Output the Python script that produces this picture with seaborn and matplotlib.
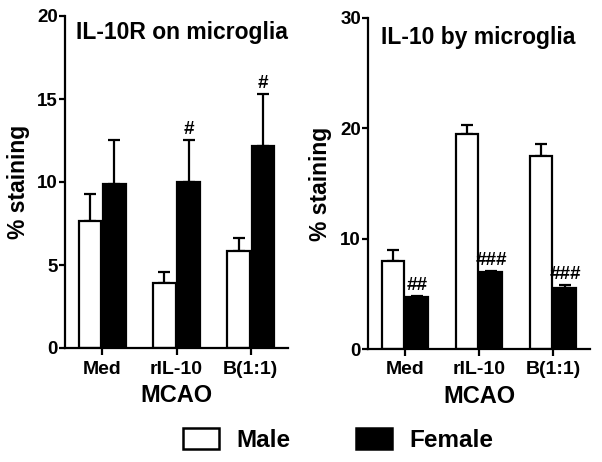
import numpy as np
import pandas as pd
import matplotlib
matplotlib.use("Agg")
import matplotlib.pyplot as plt
from matplotlib.patches import Patch
import seaborn as sns

# ---------------- data ----------------
groups = ["Med", "rIL-10", "B(1:1)"]
sexes = ["Male", "Female"]

il10r_male = [7.65, 3.9, 5.84]
il10r_male_sem = [1.65, 0.67, 0.76]
il10r_female = [9.88, 10.0, 12.17]
il10r_female_sem = [2.65, 2.5, 3.13]
il10r_marks = ["", "#", "#"]

il10_male = [7.95, 19.47, 17.5]
il10_male_sem = [0.98, 0.83, 1.05]
il10_female = [4.70, 6.95, 5.52]
il10_female_sem = [0.12, 0.09, 0.30]
il10_marks = ["##", "###", "###"]

titles = ["IL-10R on microglia", "IL-10 by microglia"]
ylims = [20, 30]
yticks = [[0, 5, 10, 15, 20], [0, 10, 20, 30]]
ylabel = "% staining"
xlabel = "MCAO"

# ---------------- style ----------------
sns.set_style("ticks")
plt.rcParams["font.family"] = ["Liberation Sans", "DejaVu Sans"]
plt.rcParams["font.weight"] = "bold"
plt.rcParams["axes.labelweight"] = "bold"
plt.rcParams["text.color"] = "black"
plt.rcParams["axes.labelcolor"] = "black"
plt.rcParams["xtick.color"] = "black"
plt.rcParams["ytick.color"] = "black"

fig = plt.figure(figsize=(6.02, 4.62), dpi=100)
ax1 = fig.add_axes([65 / 602, 1 - 348 / 462, 223 / 602, 332 / 462])
ax2 = fig.add_axes([368 / 602, 1 - 349 / 462, 222 / 602, 331 / 462])

panels = [
    (ax1, il10r_male, il10r_male_sem, il10r_female, il10r_female_sem, il10r_marks, 5.5),
    (ax2, il10_male, il10_male_sem, il10_female, il10_female_sem, il10_marks, 6),
]

palette = {"Male": "white", "Female": "black"}

for i, (ax, m, ms, f, fs, marks, ylpad) in enumerate(panels):
    df = pd.DataFrame({
        "group": groups * 2,
        "sex": ["Male"] * 3 + ["Female"] * 3,
        "value": m + f,
    })
    sns.barplot(data=df, x="group", y="value", hue="sex", order=groups,
                hue_order=sexes, palette=palette, edgecolor="black",
                linewidth=1.6, width=0.66, gap=0.08, errorbar=None,
                legend=False, ax=ax)
    sems = [ms, fs]
    for ci, cont in enumerate(ax.containers[:2]):
        xs = [b.get_x() + b.get_width() / 2 for b in cont]
        tops = [b.get_height() for b in cont]
        ax.errorbar(xs, tops, yerr=[np.zeros(len(xs)), sems[ci]], fmt="none",
                    ecolor="black", elinewidth=1.6, capsize=4.5,
                    capthick=1.6, zorder=0.5)
        if ci == 1:
            for x, t, s, mk in zip(xs, tops, sems[ci], marks):
                if mk:
                    ax.annotate(mk, (x, t + s), xytext=(0, 1.5),
                                textcoords="offset points", ha="center",
                                va="bottom", fontsize=13.5, fontweight="bold",
                                color="black")
    ax.set_ylim(0, ylims[i])
    ax.set_yticks(yticks[i])
    ax.set_xlim(-0.5, 2.5)
    sns.despine(ax=ax)
    for sp in ["left", "bottom"]:
        ax.spines[sp].set_linewidth(1.6)
        ax.spines[sp].set_color("black")
    ax.tick_params(axis="y", length=4, width=1.6, pad=1, labelsize=13.5,
                   colors="black")
    ax.tick_params(axis="x", length=5, width=1.6, pad=4, labelsize=14,
                   colors="black")
    for lab in ax.get_xticklabels() + ax.get_yticklabels():
        lab.set_fontweight("bold")
    ax.set_xlabel(xlabel, fontsize=17, fontweight="bold", labelpad=5,
                  color="black")
    ax.set_ylabel(ylabel, fontsize=16.5, fontweight="bold", labelpad=ylpad,
                  color="black")
    ax.text(0.05 if i == 0 else 0.06, 0.985 if i == 0 else 0.975, titles[i],
            transform=ax.transAxes, ha="left", va="top", fontsize=16.5,
            fontweight="bold", color="black")

handles = [Patch(facecolor=palette[s], edgecolor="black", linewidth=1.8)
           for s in sexes]
leg = fig.legend(handles, sexes, loc="center",
                 bbox_to_anchor=(338 / 602, 1 - 440 / 462),
                 ncol=2, frameon=False, prop={"size": 17.5, "weight": "bold"},
                 handlelength=1.5, handleheight=0.95, handletextpad=0.7,
                 columnspacing=2.7, labelcolor="black")

fig.savefig("out.png", dpi=100, facecolor="white")
